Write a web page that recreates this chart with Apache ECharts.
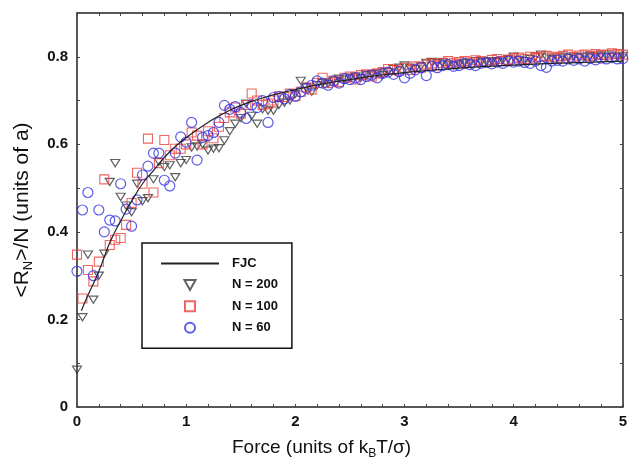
<!DOCTYPE html>
<html>
<head>
<meta charset="utf-8">
<script src="https://cdn.jsdelivr.net/npm/echarts@6/dist/echarts.min.js"></script>
<style>
html,body{margin:0;padding:0;background:#fff;}
#chart{width:630px;height:467px;}
</style>
</head>
<body>
<div id="chart"></div>
<script>
// Force values (units of kBT/sigma)
var forceValues = [
 0.00,0.05,0.10,0.15,0.20,0.25,0.30,0.35,0.40,0.45,
 0.50,0.55,0.60,0.65,0.70,0.75,0.80,0.85,0.90,0.95,
 1.00,1.05,1.10,1.15,1.20,1.25,1.30,1.35,1.40,1.45,
 1.50,1.55,1.60,1.65,1.70,1.75,1.80,1.85,1.90,1.95,
 2.00,2.05,2.10,2.15,2.20,2.25,2.30,2.35,2.40,2.45,
 2.50,2.55,2.60,2.65,2.70,2.75,2.80,2.85,2.90,2.95,
 3.00,3.05,3.10,3.15,3.20,3.25,3.30,3.35,3.40,3.45,
 3.50,3.55,3.60,3.65,3.70,3.75,3.80,3.85,3.90,3.95,
 4.00,4.05,4.10,4.15,4.20,4.25,4.30,4.35,4.40,4.45,
 4.50,4.55,4.60,4.65,4.70,4.75,4.80,4.85,4.90,4.95,
 5.00
];
// <R_N>/N for N = 200
var n200 = [
 0.085,0.205,0.348,0.245,0.300,0.350,0.514,0.557,0.480,0.460,
 0.445,0.510,0.470,0.477,0.520,0.560,0.548,0.552,0.525,0.557,
 0.564,0.593,0.595,0.600,0.586,0.590,0.591,0.609,0.630,0.647,
 0.660,0.693,0.665,0.647,0.680,0.677,0.677,0.690,0.695,0.700,
 0.715,0.745,0.730,0.720,0.735,0.740,0.738,0.745,0.750,0.748,
 0.752,0.755,0.752,0.758,0.760,0.762,0.758,0.765,0.772,0.775,
 0.780,0.775,0.772,0.778,0.786,0.788,0.786,0.787,0.782,0.780,
 0.784,0.786,0.785,0.790,0.787,0.788,0.790,0.788,0.792,0.795,
 0.800,0.793,0.790,0.795,0.800,0.805,0.798,0.795,0.798,0.800,
 0.797,0.800,0.798,0.800,0.802,0.800,0.803,0.800,0.805,0.800,
 0.802
];
// <R_N>/N for N = 100
var n100 = [
 0.348,0.248,0.313,0.287,0.332,0.520,0.370,0.382,0.386,0.416,
 0.466,0.535,0.510,0.613,0.490,0.557,0.610,0.575,0.590,0.590,
 0.600,0.627,0.620,0.600,0.630,0.614,0.640,0.660,0.673,0.684,
 0.670,0.690,0.716,0.700,0.690,0.693,0.700,0.710,0.708,0.716,
 0.710,0.720,0.730,0.725,0.740,0.752,0.740,0.745,0.742,0.752,
 0.755,0.748,0.758,0.760,0.755,0.762,0.765,0.772,0.770,0.768,
 0.775,0.770,0.778,0.775,0.782,0.785,0.780,0.786,0.790,0.785,
 0.788,0.790,0.787,0.792,0.790,0.788,0.793,0.795,0.790,0.793,
 0.796,0.798,0.795,0.800,0.798,0.800,0.802,0.800,0.798,0.802,
 0.805,0.800,0.803,0.805,0.802,0.806,0.804,0.805,0.808,0.806,
 0.805
];
// <R_N>/N for N = 60
var n60 = [
 0.310,0.450,0.490,0.300,0.450,0.400,0.427,0.425,0.510,0.452,
 0.413,0.473,0.530,0.550,0.580,0.580,0.518,0.505,0.580,0.617,
 0.605,0.650,0.564,0.616,0.620,0.627,0.650,0.689,0.680,0.686,
 0.673,0.659,0.690,0.684,0.700,0.650,0.707,0.709,0.704,0.714,
 0.710,0.720,0.728,0.735,0.745,0.740,0.735,0.745,0.740,0.750,
 0.748,0.752,0.748,0.755,0.758,0.752,0.762,0.765,0.760,0.766,
 0.752,0.762,0.770,0.775,0.757,0.778,0.775,0.780,0.782,0.778,
 0.780,0.785,0.782,0.780,0.785,0.787,0.784,0.788,0.785,0.790,
 0.788,0.790,0.787,0.785,0.790,0.780,0.776,0.790,0.792,0.790,
 0.795,0.792,0.795,0.790,0.796,0.793,0.797,0.795,0.798,0.795,
 0.796
];
// FJC curve
var fjcForce = [0.04,0.10,0.20,0.30,0.40,0.50,0.60,0.70,0.80,0.90,1.00,1.20,1.40,1.60,1.80,2.00,2.25,2.50,2.75,3.00,3.50,4.00,4.50,5.00];
var fjcValue = [0.220,0.255,0.310,0.375,0.425,0.470,0.510,0.540,0.570,0.595,0.615,0.650,0.678,0.698,0.713,0.725,0.738,0.748,0.757,0.764,0.774,0.781,0.786,0.790];

// axis ticks: small tick every step, label only on the labelled values
var xTicks = {min:0, max:5, step:0.2, labelEvery:1};
var yTicks = {min:0, max:0.9, step:0.1, labelEvery:0.2};
var seriesNames = ['FJC','N = 200','N = 100','N = 60'];

function pairs(xs, ys){ return xs.map(function(x,i){ return [x, ys[i]]; }); }
function isMultiple(v, m){ var r = v / m; return Math.abs(r - Math.round(r)) < 1e-6; }

var FONT = 'Liberation Sans, Arial, Helvetica, sans-serif';
var axisLineStyle = {color:'#222', width:1.5};
var tickStyle = {show:true, inside:true, length:3, lineStyle:{color:'#444', width:1}};

function xAxisDef(pos, labels){
  return {
    type:'value', min:xTicks.min, max:xTicks.max, interval:xTicks.step, position:pos,
    axisLine:{show:true, onZero:false, lineStyle:axisLineStyle},
    axisTick:tickStyle, splitLine:{show:false},
    axisLabel:{show:labels, color:'#111', fontSize:15, fontWeight:'bold', fontFamily:FONT, margin:7,
      formatter:function(v){ return isMultiple(v, xTicks.labelEvery) ? String(Math.round(v)) : ''; }}
  };
}
function yAxisDef(pos, labels){
  return {
    type:'value', min:yTicks.min, max:yTicks.max, interval:yTicks.step, position:pos,
    axisLine:{show:true, onZero:false, lineStyle:axisLineStyle},
    axisTick:tickStyle, splitLine:{show:false},
    axisLabel:{show:labels, color:'#111', fontSize:15, fontWeight:'bold', fontFamily:FONT, margin:9, showMaxLabel:false,
      formatter:function(v){ if(!isMultiple(v, yTicks.labelEvery)) return ''; return v===0 ? '0' : v.toFixed(1); }}
  };
}

var chart = echarts.init(document.getElementById('chart'), null, {renderer:'canvas'});
chart.setOption({
  animation:false,
  backgroundColor:'#fff',
  grid:{left:77, right:5, top:13, bottom:60, containLabel:false},
  xAxis:[xAxisDef('bottom', true), xAxisDef('top', false)],
  yAxis:[yAxisDef('left', true), yAxisDef('right', false)],
  legend:{
    show:true, orient:'vertical', left:142, top:243,
    data:[
      {name:seriesNames[0], itemStyle:{opacity:0}},
      {name:seriesNames[1]},
      {name:seriesNames[2]},
      {name:seriesNames[3]}
    ],
    backgroundColor:'#fff',
    borderColor:'#111', borderWidth:1.5, borderRadius:0,
    padding:[14,14,14,18],
    itemWidth:58, itemHeight:10, itemGap:8.4,
    textStyle:{color:'#111', fontSize:13, fontWeight:'bold', fontFamily:FONT, padding:[0,0,0,8]}
  },
  graphic:[{
    type:'text', left:232, top:436, z:10,
    style:{
      text:'{a|Force (units of k}{s|B}{a|T/σ)}',
      rich:{
        a:{fontSize:19, fontFamily:FONT, fill:'#111', lineHeight:22},
        s:{fontSize:12, fontFamily:FONT, fill:'#111', padding:[12,0,0,0], lineHeight:22}
      }
    }
  },{
    type:'text', x:22, y:210, rotation:Math.PI/2, z:10,
    style:{
      text:'{a|<R}{s|N}{a|>/N (units of a)}',
      align:'center', verticalAlign:'middle',
      rich:{
        a:{fontSize:21, fontFamily:FONT, fill:'#111', lineHeight:24},
        s:{fontSize:13, fontFamily:FONT, fill:'#111', padding:[13,0,0,0], lineHeight:24}
      }
    }
  }],
  series:[{
    name:'FJC', type:'line', smooth:true, showSymbol:false, symbol:'none', symbolSize:0, z:5,
    data:pairs(fjcForce, fjcValue),
    lineStyle:{color:'#222', width:1.2},
    itemStyle:{color:'#222'}
  },{
    name:'N = 200', type:'scatter', z:2,
    symbol:'path://M0,0L10,0L5,9Z', symbolSize:[9,8], symbolKeepAspect:true,
    data:pairs(forceValues, n200),
    itemStyle:{color:'rgba(255,255,255,0)', borderColor:'#3a3a3a', borderWidth:1.2}
  },{
    name:'N = 100', type:'scatter', z:3,
    symbol:'path://M0,0L10,0L10,10L0,10Z', symbolSize:9, symbolKeepAspect:true,
    data:pairs(forceValues, n100),
    itemStyle:{color:'rgba(255,255,255,0)', borderColor:'#e8403c', borderWidth:1.1}
  },{
    name:'N = 60', type:'scatter', z:4,
    symbol:'circle', symbolSize:10, symbolKeepAspect:true,
    data:pairs(forceValues, n60),
    itemStyle:{color:'rgba(255,255,255,0)', borderColor:'#3434e0', borderWidth:1.2}
  }]
});
</script>
</body>
</html>
